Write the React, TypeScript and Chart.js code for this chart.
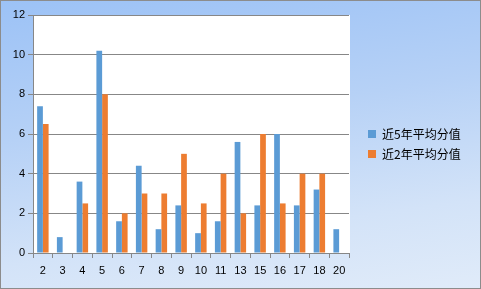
import React, { useEffect, useRef } from "react";
import { Chart, registerables } from "chart.js";

Chart.register(...registerables);

const categories = ["2", "3", "4", "5", "6", "7", "8", "9", "10", "11", "13", "15", "16", "17", "18", "20"];
const series5Label = "近5年平均分值";
const series2Label = "近2年平均分值";
const series5 = [7.4, 0.8, 3.6, 10.2, 1.6, 4.4, 1.2, 2.4, 1.0, 1.6, 5.6, 2.4, 6.0, 2.4, 3.2, 1.2];
const series2 = [6.5, 0, 2.5, 8.0, 2.0, 3.0, 3.0, 5.0, 2.5, 4.0, 2.0, 6.0, 2.5, 4.0, 4.0, 0];
const yTicks = [0, 2, 4, 6, 8, 10, 12];

const BLUE = "#5B9BD5";
const ORANGE = "#ED7D31";
const GRID = "#878787";
const TICK_FONT = { family: "'Liberation Sans', Arial, sans-serif", size: 11 };

const legendPlugin = {
  id: "customLegend",
  afterDraw(chart: any) {
    const ctx = chart.ctx;
    ctx.save();
    ctx.font = "12px 'Noto Sans CJK SC', sans-serif";
    ctx.textBaseline = "middle";
    ctx.textAlign = "left";
    chart.data.datasets.forEach((ds: any, i: number) => {
      const y = 133 + i * 20;
      ctx.fillStyle = ds.backgroundColor;
      ctx.fillRect(367, y - 4, 8, 8);
      ctx.fillStyle = "#000";
      ctx.fillText(ds.label, 381, y);
    });
    ctx.restore();
  },
};

export default function App() {
  const ref = useRef<HTMLCanvasElement | null>(null);
  useEffect(() => {
    document.body.style.margin = "0";
    if (!ref.current) return;
    const chart = new Chart(ref.current, {
      type: "bar",
      data: {
        labels: categories,
        datasets: [
          { label: series5Label, data: series5, backgroundColor: BLUE, categoryPercentage: 0.58, barPercentage: 1 },
          { label: series2Label, data: series2, backgroundColor: ORANGE, categoryPercentage: 0.58, barPercentage: 1 },
        ],
      },
      options: {
        responsive: false,
        animation: false,
        layout: { padding: { top: 14, right: 131, left: 0, bottom: 0 } },
        plugins: { legend: { display: false }, tooltip: { enabled: false } },
        scales: {
          x: {
            offset: true,
            grid: { offset: true, drawOnChartArea: false, drawTicks: true, tickLength: 5, color: GRID },
            border: { display: true, color: GRID },
            ticks: { color: "#000", font: TICK_FONT, padding: 6, maxRotation: 0, autoSkip: false },
            afterFit: (s: any) => { s.height = 35; },
          },
          y: {
            min: 0,
            max: 12,
            afterBuildTicks: (s: any) => { s.ticks = yTicks.map((v) => ({ value: v })); },
            grid: { color: GRID, tickLength: 5, drawTicks: true },
            border: { display: true, color: GRID },
            ticks: { color: "#000", font: TICK_FONT, padding: 3 },
            afterFit: (s: any) => { s.width = 32; },
          },
        },
      },
      plugins: [legendPlugin],
    });
    return () => chart.destroy();
  }, []);

  return (
    <div
      style={{
        width: 481,
        height: 289,
        boxSizing: "border-box",
        border: "1px solid #8c8c8c",
        background: "linear-gradient(172deg, #9cc2f6 0%, #b6d1f6 40%, #d3e3f8 75%, #e0ebf9 100%)",
        position: "relative",
      }}
    >
      <div style={{ position: "absolute", left: 33, top: 14, width: 316, height: 238, background: "#fff" }} />
      <canvas ref={ref} width={479} height={287} style={{ position: "absolute", left: 0, top: 0, display: "block" }} />
    </div>
  );
}
